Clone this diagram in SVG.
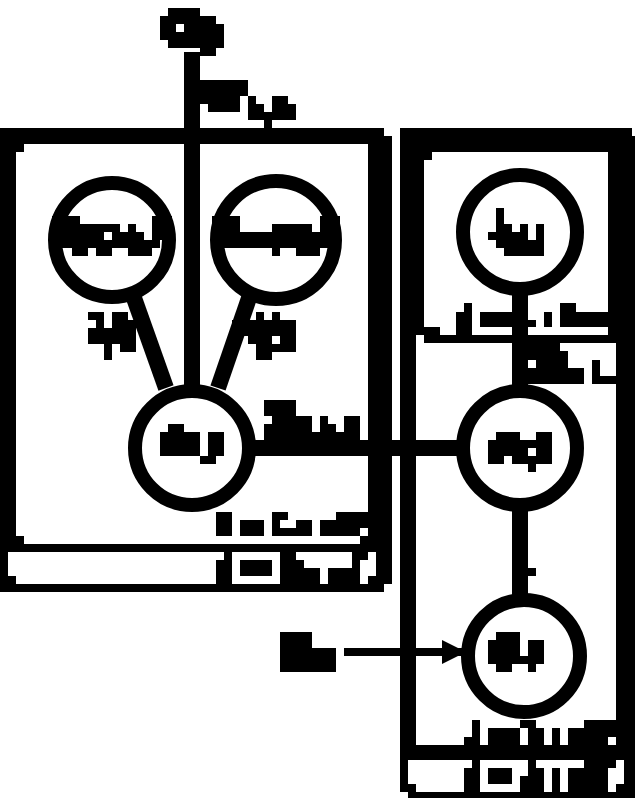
<svg xmlns="http://www.w3.org/2000/svg" width="635" height="798" viewBox="0 0 635 798">
<style>
.k{fill:#000}
.w{fill:#fff}
.node{fill:#fff;stroke:#000;stroke-width:14}
.edge{stroke:#000;stroke-width:16;fill:none}
.thin{stroke:#000;stroke-width:8;fill:none}
</style>
<defs>
<marker id="ah" viewBox="0 0 10 10" refX="10" refY="5" markerWidth="4" markerHeight="3" markerUnits="strokeWidth" orient="auto">
<path d="M0,0 L10,5 L0,10 z" class="k"/>
</marker>
</defs>
<rect width="635" height="798" class="w"/>

<g id="cluster-left">
<rect x="0" y="128" width="392" height="464" class="k"/>
<rect x="16" y="144" width="352" height="400" class="w"/>
<rect x="16" y="144" width="8" height="8" class="k"/>
<rect x="16" y="536" width="8" height="8" class="k"/>
<rect x="360" y="536" width="8" height="8" class="k"/>
<rect x="384" y="128" width="8" height="8" class="w"/>
<rect x="384" y="584" width="8" height="8" class="w"/>
<rect x="8" y="552" width="208" height="24" class="w"/>
<rect x="16" y="576" width="200" height="8" class="w"/>
<rect x="216" y="552" width="8" height="8" class="w"/>
<rect x="236" y="556" width="40" height="24" fill="none" stroke="#fff" stroke-width="8"/>
<rect x="296" y="552" width="56" height="8" class="w"/>
<rect x="304" y="560" width="48" height="8" class="w"/>
<rect x="320" y="568" width="8" height="16" class="w"/>
<rect x="368" y="552" width="8" height="24" class="w"/>
<rect x="360" y="560" width="8" height="24" class="w"/>
<g id="label-left">
<rect x="216" y="512" width="16" height="24" class="k"/>
<rect x="240" y="520" width="24" height="16" class="k"/>
<rect x="272" y="512" width="16" height="8" class="k"/>
<rect x="272" y="520" width="8" height="8" class="k"/>
<rect x="296" y="520" width="16" height="8" class="k"/>
<rect x="272" y="528" width="40" height="8" class="k"/>
<rect x="320" y="520" width="40" height="16" class="k"/>
<rect x="336" y="512" width="32" height="8" class="k"/>
<rect x="360" y="520" width="8" height="8" class="k"/>
</g>
</g>

<g id="cluster-right">
<rect x="400" y="128" width="235" height="670" class="k"/>
<rect x="416" y="144" width="200" height="601" class="w"/>
<rect x="632" y="128" width="3" height="8" class="w"/>
<rect x="400" y="792" width="8" height="6" class="w"/>
<g id="cluster-inner">
<rect x="416" y="144" width="8" height="191" class="k"/>
<rect x="416" y="144" width="200" height="8" class="k"/>
<rect x="608" y="144" width="8" height="199" class="k"/>
<rect x="424" y="335" width="192" height="8" class="k"/>
<rect x="424" y="327" width="16" height="8" class="k"/>
<rect x="424" y="152" width="8" height="8" class="k"/>
<g id="label-inner">
<rect x="464" y="303" width="8" height="9" class="k"/>
<rect x="456" y="312" width="16" height="23" class="k"/>
<rect x="480" y="312" width="32" height="15" class="k"/>
<rect x="528" y="320" width="8" height="7" class="k"/>
<rect x="544" y="312" width="8" height="15" class="k"/>
<rect x="560" y="303" width="16" height="24" class="k"/>
<rect x="576" y="312" width="32" height="15" class="k"/>
</g>
</g>
<rect x="408" y="760" width="64" height="8" class="w"/>
<rect x="408" y="768" width="56" height="16" class="w"/>
<rect x="416" y="784" width="48" height="8" class="w"/>
<rect x="484" y="764" width="32" height="24" fill="none" stroke="#fff" stroke-width="8"/>
<rect x="520" y="760" width="8" height="16" class="w"/>
<rect x="536" y="760" width="48" height="8" class="w"/>
<rect x="544" y="768" width="8" height="24" class="w"/>
<rect x="560" y="768" width="8" height="24" class="w"/>
<rect x="616" y="760" width="8" height="24" class="w"/>
<rect x="608" y="768" width="8" height="24" class="w"/>
<g id="label-right">
<rect x="472" y="720" width="8" height="25" class="k"/>
<rect x="464" y="737" width="8" height="8" class="k"/>
<rect x="488" y="728" width="32" height="17" class="k"/>
<rect x="520" y="720" width="16" height="8" class="k"/>
<rect x="528" y="728" width="16" height="17" class="k"/>
<rect x="552" y="728" width="8" height="17" class="k"/>
<rect x="584" y="720" width="32" height="8" class="k"/>
<rect x="568" y="728" width="48" height="9" class="k"/>
<rect x="568" y="737" width="40" height="8" class="k"/>
</g>
</g>

<g id="connectors">
<line x1="192" y1="52" x2="192" y2="390" class="edge"/>
<line x1="134" y1="298" x2="166" y2="388" class="edge"/>
<line x1="249" y1="298" x2="218" y2="388" class="edge"/>
<line x1="250" y1="448" x2="462" y2="448" class="edge"/>
<line x1="520" y1="288" x2="520" y2="390" class="edge"/>
<line x1="520" y1="506" x2="520" y2="596" class="edge"/>
<rect x="528" y="568" width="8" height="8" class="k"/>
<line x1="344" y1="652" x2="466" y2="652" class="thin" marker-end="url(#ah)"/>
<g id="edge-label-top">
<rect x="200" y="80" width="48" height="16" class="k"/>
<rect x="200" y="96" width="40" height="8" class="k"/>
<rect x="208" y="104" width="32" height="8" class="k"/>
<rect x="248" y="96" width="8" height="8" class="k"/>
<rect x="272" y="96" width="16" height="8" class="k"/>
<rect x="248" y="104" width="16" height="8" class="k"/>
<rect x="272" y="104" width="24" height="8" class="k"/>
<rect x="248" y="112" width="48" height="8" class="k"/>
<rect x="264" y="120" width="8" height="8" class="k"/>
</g>
<g id="edge-label-1">
<rect x="88" y="312" width="16" height="8" class="k"/>
<rect x="112" y="312" width="16" height="8" class="k"/>
<rect x="96" y="320" width="8" height="8" class="k"/>
<rect x="112" y="320" width="32" height="8" class="k"/>
<rect x="88" y="328" width="48" height="16" class="k"/>
<rect x="104" y="344" width="8" height="16" class="k"/>
<rect x="120" y="344" width="16" height="8" class="k"/>
</g>
<g id="edge-label-2">
<rect x="256" y="312" width="8" height="8" class="k"/>
<rect x="272" y="312" width="8" height="8" class="k"/>
<rect x="232" y="320" width="64" height="16" class="k"/>
<rect x="248" y="336" width="24" height="8" class="k"/>
<rect x="280" y="336" width="16" height="8" class="k"/>
<rect x="256" y="344" width="40" height="8" class="k"/>
<rect x="256" y="352" width="16" height="8" class="k"/>
</g>
<g id="edge-label-3">
<rect x="264" y="400" width="32" height="16" class="k"/>
<rect x="272" y="416" width="40" height="8" class="k"/>
<rect x="320" y="416" width="8" height="8" class="k"/>
<rect x="344" y="416" width="16" height="8" class="k"/>
<rect x="264" y="424" width="48" height="8" class="k"/>
<rect x="320" y="424" width="16" height="8" class="k"/>
<rect x="344" y="424" width="16" height="8" class="k"/>
<rect x="264" y="432" width="96" height="8" class="k"/>
</g>
<g id="edge-label-4">
<rect x="512" y="343" width="48" height="8" class="k"/>
<rect x="512" y="351" width="56" height="9" class="k"/>
<rect x="512" y="360" width="16" height="8" class="k"/>
<rect x="536" y="360" width="32" height="8" class="k"/>
<rect x="592" y="360" width="8" height="8" class="k"/>
<rect x="512" y="368" width="72" height="8" class="k"/>
<rect x="592" y="368" width="8" height="8" class="k"/>
<rect x="512" y="376" width="72" height="8" class="k"/>
<rect x="592" y="376" width="24" height="8" class="k"/>
</g>
</g>

<g id="node-start">
<rect x="168" y="8" width="32" height="8" class="k"/>
<rect x="160" y="16" width="56" height="8" class="k"/>
<rect x="160" y="24" width="16" height="8" class="k"/>
<rect x="184" y="24" width="40" height="8" class="k"/>
<rect x="160" y="32" width="64" height="8" class="k"/>
<rect x="168" y="40" width="56" height="8" class="k"/>
<rect x="200" y="48" width="16" height="8" class="k"/>
</g>

<g id="node-1">
<circle cx="112" cy="240" r="57" class="node"/>
<rect x="52" y="216" width="28" height="8" class="k"/>
<rect x="52" y="224" width="68" height="8" class="k"/>
<rect x="128" y="224" width="8" height="8" class="k"/>
<rect x="52" y="232" width="52" height="8" class="k"/>
<rect x="112" y="232" width="32" height="8" class="k"/>
<rect x="52" y="240" width="108" height="8" class="k"/>
<rect x="72" y="248" width="16" height="8" class="k"/>
<rect x="96" y="248" width="16" height="8" class="k"/>
<rect x="128" y="248" width="24" height="8" class="k"/>
<rect x="152" y="216" width="20" height="24" class="k"/>
</g>

<g id="node-2">
<circle cx="276" cy="240" r="59" class="node"/>
<rect x="212" y="216" width="28" height="16" class="k"/>
<rect x="272" y="224" width="40" height="8" class="k"/>
<rect x="212" y="232" width="128" height="16" class="k"/>
<rect x="272" y="248" width="8" height="8" class="k"/>
<rect x="296" y="248" width="24" height="8" class="k"/>
<rect x="320" y="216" width="20" height="16" class="k"/>
</g>

<g id="node-3">
<circle cx="192" cy="448" r="57" class="node"/>
<rect x="168" y="424" width="16" height="8" class="k"/>
<rect x="160" y="432" width="40" height="24" class="k"/>
<rect x="208" y="432" width="16" height="24" class="k"/>
<rect x="200" y="456" width="16" height="8" class="k"/>
</g>

<g id="node-4">
<circle cx="520" cy="232" r="57" class="node"/>
<rect x="496" y="208" width="8" height="16" class="k"/>
<rect x="496" y="224" width="16" height="8" class="k"/>
<rect x="520" y="224" width="8" height="8" class="k"/>
<rect x="536" y="224" width="8" height="8" class="k"/>
<rect x="488" y="232" width="40" height="8" class="k"/>
<rect x="536" y="232" width="8" height="8" class="k"/>
<rect x="496" y="240" width="48" height="8" class="k"/>
<rect x="504" y="248" width="40" height="8" class="k"/>
</g>

<g id="node-5">
<circle cx="520" cy="448" r="57" class="node"/>
<rect x="496" y="432" width="24" height="8" class="k"/>
<rect x="536" y="432" width="16" height="8" class="k"/>
<rect x="488" y="440" width="64" height="8" class="k"/>
<rect x="488" y="448" width="40" height="8" class="k"/>
<rect x="536" y="448" width="16" height="8" class="k"/>
<rect x="488" y="456" width="16" height="8" class="k"/>
<rect x="512" y="456" width="40" height="8" class="k"/>
<rect x="528" y="464" width="8" height="8" class="k"/>
</g>

<g id="node-6">
<circle cx="524" cy="656" r="56" class="node"/>
<rect x="496" y="632" width="24" height="8" class="k"/>
<rect x="488" y="640" width="32" height="16" class="k"/>
<rect x="528" y="640" width="16" height="16" class="k"/>
<rect x="488" y="656" width="56" height="8" class="k"/>
<rect x="496" y="664" width="16" height="8" class="k"/>
<rect x="528" y="664" width="8" height="8" class="k"/>
</g>

<g id="node-left">
<rect x="280" y="632" width="32" height="16" class="k"/>
<rect x="280" y="648" width="56" height="24" class="k"/>
</g>
</svg>
